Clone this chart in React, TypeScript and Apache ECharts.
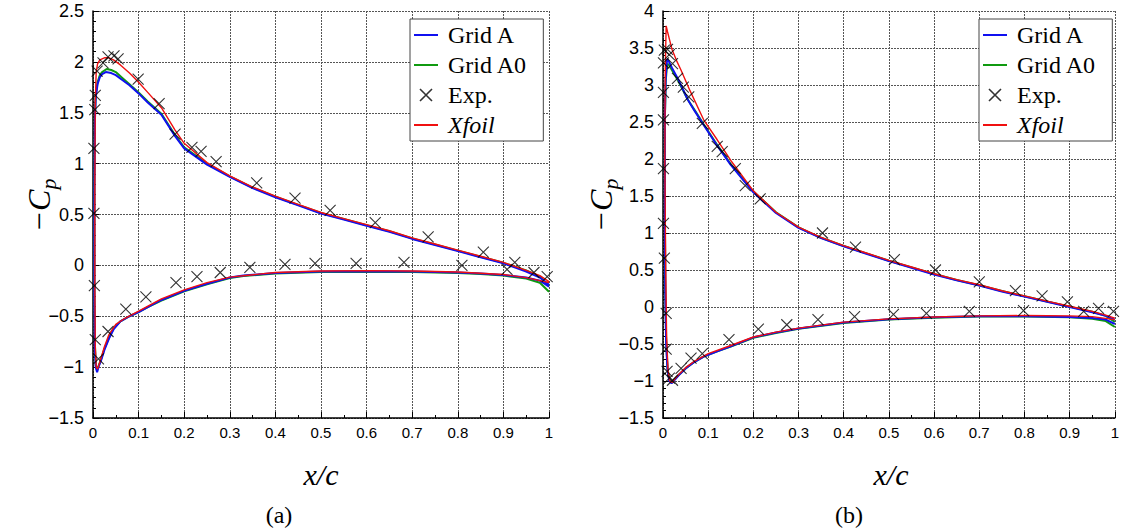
import React, { useEffect, useRef } from "react";
import * as echarts from "echarts";

// ---------- data (x/c, -Cp) ----------
const xTickValues = [0, 0.1, 0.2, 0.3, 0.4, 0.5, 0.6, 0.7, 0.8, 0.9, 1];
const seriesNames = ["Grid A", "Grid A0", "Exp.", "Xfoil"];
const panelLabels = ["(a)", "(b)"];
const xAxisTitle = "x/c";

// Panel (a)
const gridA_a: number[][] = [
  [1.0, -0.21], [0.98, -0.15], [0.95, -0.12], [0.9, -0.095], [0.85, -0.08], [0.8, -0.07], [0.7, -0.06],
  [0.6, -0.057], [0.5, -0.06], [0.4, -0.075], [0.33, -0.1], [0.3, -0.12], [0.25, -0.18], [0.2, -0.25],
  [0.15, -0.34], [0.12, -0.41], [0.1, -0.46], [0.08, -0.5], [0.06, -0.55], [0.045, -0.63], [0.035, -0.72],
  [0.025, -0.83], [0.018, -0.93], [0.012, -1.0], [0.009, -1.05], [0.006, -1.0], [0.004, -0.8], [0.003, -0.3],
  [0.003, 0.7], [0.004, 1.4], [0.006, 1.65], [0.01, 1.78], [0.015, 1.85], [0.02, 1.88], [0.028, 1.9],
  [0.04, 1.89], [0.05, 1.87], [0.065, 1.82], [0.08, 1.77], [0.1, 1.69], [0.12, 1.6], [0.15, 1.48],
  [0.18, 1.27], [0.2, 1.15], [0.25, 0.99], [0.3, 0.87], [0.35, 0.76], [0.4, 0.67], [0.45, 0.59],
  [0.5, 0.51], [0.55, 0.45], [0.6, 0.39], [0.65, 0.33], [0.7, 0.26], [0.75, 0.2], [0.8, 0.14],
  [0.85, 0.08], [0.9, 0.02], [0.95, -0.06], [0.98, -0.12], [1.0, -0.19],
];
const gridA0_a: number[][] = [
  [1.0, -0.26], [0.98, -0.17], [0.95, -0.13], [0.9, -0.1], [0.85, -0.085], [0.8, -0.075], [0.7, -0.065],
  [0.6, -0.062], [0.5, -0.065], [0.4, -0.08], [0.33, -0.105], [0.3, -0.125], [0.25, -0.185], [0.2, -0.255],
  [0.15, -0.345], [0.12, -0.41], [0.1, -0.46], [0.08, -0.5], [0.06, -0.55], [0.045, -0.62], [0.035, -0.71],
  [0.025, -0.82], [0.018, -0.92], [0.012, -0.99], [0.009, -1.03], [0.006, -0.98], [0.004, -0.75], [0.003, -0.2],
  [0.003, 0.8], [0.004, 1.45], [0.006, 1.68], [0.01, 1.8], [0.015, 1.87], [0.02, 1.9], [0.03, 1.93],
  [0.04, 1.92], [0.05, 1.9], [0.065, 1.84], [0.08, 1.78], [0.1, 1.7], [0.12, 1.61], [0.15, 1.49],
  [0.18, 1.28], [0.2, 1.16], [0.25, 1.0], [0.3, 0.875], [0.35, 0.765], [0.4, 0.675], [0.45, 0.595],
  [0.5, 0.515], [0.55, 0.455], [0.6, 0.395], [0.65, 0.335], [0.7, 0.265], [0.75, 0.205], [0.8, 0.145],
  [0.85, 0.085], [0.9, 0.025], [0.95, -0.05], [0.98, -0.11], [1.0, -0.2],
];
const xfoil_a: number[][] = [
  [1.0, -0.17], [0.95, -0.12], [0.9, -0.09], [0.8, -0.065], [0.7, -0.055], [0.6, -0.052], [0.5, -0.055],
  [0.4, -0.07], [0.3, -0.115], [0.25, -0.17], [0.2, -0.24], [0.15, -0.33], [0.1, -0.45], [0.07, -0.52],
  [0.05, -0.58], [0.035, -0.68], [0.025, -0.8], [0.015, -0.95], [0.01, -1.02], [0.007, -1.0], [0.005, -0.8],
  [0.004, -0.2], [0.004, 0.8], [0.005, 1.6], [0.007, 1.9], [0.01, 1.98], [0.015, 2.02], [0.025, 2.04],
  [0.035, 2.04], [0.045, 2.02], [0.06, 1.97], [0.08, 1.89], [0.1, 1.8], [0.12, 1.7], [0.15, 1.55],
  [0.18, 1.33], [0.2, 1.2], [0.25, 1.01], [0.3, 0.88], [0.35, 0.77], [0.4, 0.68], [0.45, 0.6],
  [0.5, 0.52], [0.55, 0.46], [0.6, 0.4], [0.65, 0.34], [0.7, 0.27], [0.75, 0.21], [0.8, 0.15],
  [0.85, 0.09], [0.9, 0.03], [0.95, -0.05], [0.98, -0.1], [1.0, -0.16],
];
const exp_a: number[][] = [
  [0.002, 1.15], [0.002, 0.51], [0.004, 1.53], [0.005, 1.67], [0.009, 1.91], [0.022, 1.99], [0.033, 2.05],
  [0.046, 2.06], [0.055, 2.03], [0.099, 1.83], [0.145, 1.59], [0.18, 1.29], [0.217, 1.16], [0.237, 1.12],
  [0.27, 1.02], [0.359, 0.81], [0.443, 0.66], [0.52, 0.54], [0.619, 0.42], [0.735, 0.28], [0.856, 0.13],
  [0.925, 0.03], [0.967, -0.07], [0.996, -0.11],
  [0.003, -0.2], [0.005, -0.73], [0.012, -0.92], [0.033, -0.65], [0.072, -0.43], [0.116, -0.31],
  [0.182, -0.17], [0.228, -0.11], [0.279, -0.07], [0.344, -0.02], [0.421, 0.01], [0.487, 0.02],
  [0.577, 0.02], [0.682, 0.03], [0.809, 0.0], [0.908, -0.04],
];

// Panel (b)
const gridA_b: number[][] = [
  [1.0, -0.23], [0.98, -0.17], [0.95, -0.15], [0.9, -0.135], [0.8, -0.125], [0.7, -0.125], [0.6, -0.14],
  [0.5, -0.165], [0.4, -0.21], [0.3, -0.29], [0.25, -0.345], [0.2, -0.41], [0.15, -0.53], [0.12, -0.6],
  [0.09, -0.67], [0.07, -0.74], [0.05, -0.83], [0.035, -0.92], [0.025, -0.99], [0.019, -1.03], [0.014, -1.0],
  [0.01, -0.85], [0.007, -0.5], [0.005, 0.2], [0.004, 1.5], [0.004, 2.5], [0.006, 3.1], [0.009, 3.35],
  [0.012, 3.33], [0.02, 3.23], [0.035, 3.06], [0.055, 2.8], [0.07, 2.65], [0.09, 2.46], [0.12, 2.18],
  [0.15, 1.92], [0.2, 1.55], [0.25, 1.27], [0.3, 1.07], [0.35, 0.93], [0.4, 0.82], [0.45, 0.72],
  [0.5, 0.62], [0.55, 0.53], [0.6, 0.44], [0.65, 0.36], [0.7, 0.29], [0.75, 0.21], [0.8, 0.14],
  [0.85, 0.07], [0.9, 0.0], [0.95, -0.07], [0.98, -0.12], [1.0, -0.17],
];
const gridA0_b: number[][] = [
  [1.0, -0.27], [0.98, -0.19], [0.95, -0.16], [0.9, -0.14], [0.8, -0.13], [0.7, -0.13], [0.6, -0.145],
  [0.5, -0.17], [0.4, -0.215], [0.3, -0.295], [0.25, -0.35], [0.2, -0.415], [0.15, -0.535], [0.12, -0.6],
  [0.09, -0.67], [0.07, -0.74], [0.05, -0.83], [0.035, -0.92], [0.025, -0.98], [0.019, -1.02], [0.014, -0.99],
  [0.01, -0.83], [0.007, -0.45], [0.005, 0.3], [0.004, 1.6], [0.004, 2.5], [0.006, 3.05], [0.009, 3.28],
  [0.012, 3.28], [0.02, 3.2], [0.035, 3.04], [0.055, 2.8], [0.07, 2.66], [0.09, 2.47], [0.12, 2.19],
  [0.15, 1.93], [0.2, 1.56], [0.25, 1.28], [0.3, 1.075], [0.35, 0.935], [0.4, 0.825], [0.45, 0.725],
  [0.5, 0.625], [0.55, 0.535], [0.6, 0.445], [0.65, 0.365], [0.7, 0.295], [0.75, 0.215], [0.8, 0.145],
  [0.85, 0.075], [0.9, 0.005], [0.95, -0.065], [0.98, -0.12], [1.0, -0.2],
];
const xfoil_b: number[][] = [
  [1.0, -0.17], [0.95, -0.13], [0.9, -0.12], [0.8, -0.115], [0.7, -0.12], [0.6, -0.135], [0.5, -0.16],
  [0.4, -0.205], [0.3, -0.285], [0.25, -0.34], [0.2, -0.405], [0.15, -0.52], [0.1, -0.63], [0.07, -0.73],
  [0.05, -0.82], [0.035, -0.91], [0.025, -0.98], [0.02, -1.02], [0.015, -1.0], [0.011, -0.85], [0.008, -0.4],
  [0.006, 0.5], [0.004, 2.0], [0.005, 3.2], [0.007, 3.8], [0.01, 3.72], [0.015, 3.6], [0.02, 3.48],
  [0.03, 3.33], [0.04, 3.2], [0.06, 2.92], [0.09, 2.53], [0.12, 2.26], [0.15, 1.98], [0.2, 1.57],
  [0.25, 1.28], [0.3, 1.08], [0.35, 0.94], [0.4, 0.83], [0.45, 0.73], [0.5, 0.63], [0.55, 0.54],
  [0.6, 0.45], [0.65, 0.37], [0.7, 0.3], [0.75, 0.22], [0.8, 0.15], [0.85, 0.08], [0.9, 0.01],
  [0.95, -0.06], [0.98, -0.11], [1.0, -0.15],
];
const exp_b: number[][] = [
  [0.001, 1.87], [0.001, 2.53], [0.001, 2.9], [0.001, 3.3], [0.003, 3.47], [0.01, 3.48], [0.014, 3.41],
  [0.021, 3.29], [0.032, 3.09], [0.045, 2.97], [0.057, 2.84], [0.087, 2.48], [0.12, 2.17], [0.131, 2.1],
  [0.16, 1.87], [0.182, 1.64], [0.215, 1.46], [0.353, 1.0], [0.426, 0.81], [0.512, 0.64], [0.603, 0.5],
  [0.7, 0.34], [0.78, 0.22], [0.839, 0.15], [0.895, 0.07], [0.964, -0.02], [0.997, -0.06],
  [0.001, 1.13], [0.003, 0.66],
  [0.007, -0.085], [0.007, -0.57], [0.009, -0.87], [0.014, -0.96], [0.021, -0.99], [0.04, -0.83],
  [0.062, -0.69], [0.087, -0.63], [0.146, -0.44], [0.211, -0.3], [0.274, -0.24], [0.343, -0.17],
  [0.424, -0.13], [0.51, -0.1], [0.583, -0.085], [0.678, -0.06], [0.798, -0.05], [0.931, -0.06],
];

// y-axis ranges per panel
const yMin = [-1.5, -1.5];
const yMax = [2.5, 4];

// ---------- styling ----------
const COLORS = { a: "#1010f0", a0: "#109a10", exp: "#000000", xfoil: "#f01010" };
const CROSS = "path://M0,0L10,10M10,0L0,10";
const LINE_ICON = "path://M0,0L24,0L24,2L0,2Z";
const SERIF = "Liberation Serif";
const SANS = "Liberation Sans";

const GRID_LEFT = [93, 663];
const GRID_TOP = 11;
const GRID_W = 456;
const GRID_H = 407;

function fmtNum(v: number) {
  const r = Math.round(v * 10) / 10;
  if (r < 0) return "\u2212" + String(Math.abs(r));
  return String(r);
}

function panelSeries(i: number, ga: number[][], ga0: number[][], ex: number[][], xf: number[][]) {
  return [
    {
      name: "Grid A0", type: "line", xAxisIndex: i, yAxisIndex: i, data: ga0, symbol: "none", z: 2,
      lineStyle: { color: COLORS.a0, width: 2 }, itemStyle: { color: COLORS.a0 },
    },
    {
      name: "Grid A", type: "line", xAxisIndex: i, yAxisIndex: i, data: ga, symbol: "none", z: 3,
      lineStyle: { color: COLORS.a, width: 2 }, itemStyle: { color: COLORS.a },
    },
    {
      name: "Xfoil", type: "line", xAxisIndex: i, yAxisIndex: i, data: xf, symbol: "none", z: 4,
      lineStyle: { color: COLORS.xfoil, width: 1.4 }, itemStyle: { color: COLORS.xfoil },
    },
    {
      name: "Exp.", type: "scatter", xAxisIndex: i, yAxisIndex: i, data: ex, symbol: CROSS, symbolSize: 11, z: 5,
      itemStyle: { color: "rgba(0,0,0,0)", borderColor: COLORS.exp, borderWidth: 1.1 },
    },
  ];
}

function legendFor(i: number) {
  return {
    orient: "vertical",
    left: i === 0 ? 410 : 979,
    top: 19,
    backgroundColor: "#fff",
    borderColor: "#444",
    borderWidth: 1,
    borderRadius: 0,
    padding: [4, 16, 4, 4],
    itemGap: 6,
    itemWidth: 24,
    itemHeight: 12,
    textStyle: { fontFamily: SERIF, fontSize: 24, color: "#000", padding: [0, 0, 0, 5] },
    data: [
      { name: seriesNames[0], icon: LINE_ICON, itemStyle: { color: COLORS.a, borderWidth: 0 } },
      { name: seriesNames[1], icon: LINE_ICON, itemStyle: { color: COLORS.a0, borderWidth: 0 } },
      { name: seriesNames[2], icon: CROSS, itemStyle: { color: "rgba(0,0,0,0)", borderColor: "#000", borderWidth: 1.6 } },
      {
        name: seriesNames[3], icon: LINE_ICON, itemStyle: { color: COLORS.xfoil, borderWidth: 0 },
        textStyle: { fontFamily: SERIF, fontStyle: "italic", fontSize: 24, color: "#000" },
      },
    ],
    selectedMode: false,
  };
}

function xAxisFor(i: number) {
  return {
    type: "value", gridIndex: i, min: 0, max: 1, interval: 0.1,
    axisLine: { show: true, onZero: false, lineStyle: { color: "#000", width: 1.5 } },
    axisTick: { show: true, inside: true, length: 6, lineStyle: { color: "#000" } },
    minorTick: { show: true, splitNumber: 2, length: 3, lineStyle: { color: "#000" } },
    axisLabel: {
      fontFamily: SANS, fontSize: 15, color: "#000", margin: 7,
      formatter: (v: number) => (xTickValues.some((t) => Math.abs(t - v) < 1e-6) ? fmtNum(v) : ""),
    },
    splitLine: { show: true, lineStyle: { color: "#555", width: 1, type: [2, 1] } },
  };
}

function yAxisFor(i: number) {
  return {
    type: "value", gridIndex: i, min: yMin[i], max: yMax[i], interval: 0.5,
    axisLine: { show: true, onZero: false, lineStyle: { color: "#000", width: 1.5 } },
    axisTick: { show: true, inside: true, length: 6, lineStyle: { color: "#000" } },
    minorTick: { show: true, splitNumber: 5, length: 3, lineStyle: { color: "#000" } },
    axisLabel: { fontFamily: SANS, fontSize: 18, color: "#000", margin: 9, formatter: (v: number) => fmtNum(v) },
    splitLine: { show: true, lineStyle: { color: "#555", width: 1, type: [2, 1] } },
  };
}

function yNameGraphic(cx: number) {
  return {
    type: "group", x: cx, y: 205, rotation: Math.PI / 2,
    children: [
      {
        type: "text", x: -6, y: 0,
        style: { text: "\u2212C", fontFamily: SERIF, fontStyle: "italic", fontSize: 32, fill: "#000", textAlign: "center", textVerticalAlign: "middle" },
      },
      {
        type: "text", x: 21, y: 9,
        style: { text: "p", fontFamily: SERIF, fontStyle: "italic", fontSize: 22, fill: "#000", textAlign: "center", textVerticalAlign: "middle" },
      },
    ],
  };
}

function xNameGraphic(cx: number) {
  return {
    type: "text", x: cx, y: 474,
    style: { text: xAxisTitle, fontFamily: SERIF, fontStyle: "italic", fontSize: 30, fill: "#000", textAlign: "center", textVerticalAlign: "middle" },
  };
}

export default function App() {
  const ref = useRef<HTMLDivElement>(null);
  useEffect(() => {
    if (!ref.current) return;
    const chart = echarts.init(ref.current, undefined, { renderer: "svg" });
    chart.setOption({
      animation: false,
      backgroundColor: "#fff",
      grid: [0, 1].map((i) => ({ left: GRID_LEFT[i], top: GRID_TOP, width: GRID_W, height: GRID_H, containLabel: false })),
      xAxis: [xAxisFor(0), xAxisFor(1)],
      yAxis: [yAxisFor(0), yAxisFor(1)],
      legend: [legendFor(0), legendFor(1)],
      series: [
        ...panelSeries(0, gridA_a, gridA0_a, exp_a, xfoil_a),
        ...panelSeries(1, gridA_b, gridA0_b, exp_b, xfoil_b),
      ],
      graphic: [
        yNameGraphic(39),
        yNameGraphic(601),
        xNameGraphic(GRID_LEFT[0] + GRID_W / 2),
        xNameGraphic(GRID_LEFT[1] + GRID_W / 2),
        {
          type: "text", x: 279, y: 515,
          style: { text: panelLabels[0], fontFamily: SERIF, fontSize: 24, fill: "#000", textAlign: "center", textVerticalAlign: "middle" },
        },
        {
          type: "text", x: 849, y: 515,
          style: { text: panelLabels[1], fontFamily: SERIF, fontSize: 24, fill: "#000", textAlign: "center", textVerticalAlign: "middle" },
        },
      ],
    });
    return () => chart.dispose();
  }, []);
  return (
    <div
      ref={ref}
      style={{ position: "fixed", left: 0, top: 0, width: 1122, height: 529, background: "#fff" }}
    />
  );
}
